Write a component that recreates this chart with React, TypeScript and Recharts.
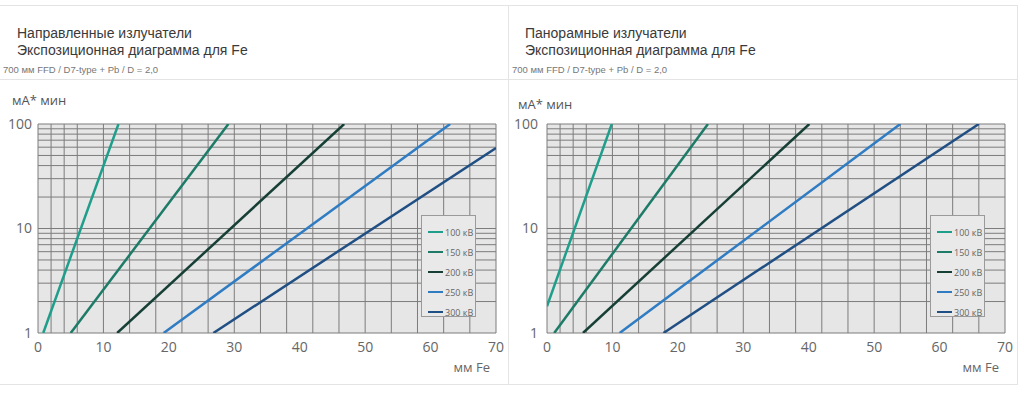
import React from 'react';
import { LineChart, Line, XAxis, YAxis, CartesianGrid, Legend, ReferenceLine } from 'recharts';

// thickness axis (mm Fe) and exposure axis (mA*min)
const xTicks = [0, 10, 20, 30, 40, 50, 60, 70];
const yTicks = [1, 10, 100];
const seriesNames = ['100 кВ', '150 кВ', '200 кВ', '250 кВ', '300 кВ'];
const seriesColors = ['#1f9e8b', '#1d7b68', '#163f35', '#2f7cc2', '#204f84'];

// directional tubes
const directional100 = [{ x: 0.8, y: 1 }, { x: 12.3, y: 100 }];
const directional150 = [{ x: 5.0, y: 1 }, { x: 29.1, y: 100 }];
const directional200 = [{ x: 12.1, y: 1 }, { x: 46.8, y: 100 }];
const directional250 = [{ x: 19.2, y: 1 }, { x: 63.0, y: 100 }];
const directional300 = [{ x: 26.8, y: 1 }, { x: 70, y: 59 }];

// panoramic tubes
const panoramic100 = [{ x: 0, y: 1.8 }, { x: 9.9, y: 100 }];
const panoramic150 = [{ x: 1.1, y: 1 }, { x: 24.6, y: 100 }];
const panoramic200 = [{ x: 5.5, y: 1 }, { x: 40.1, y: 100 }];
const panoramic250 = [{ x: 11.1, y: 1 }, { x: 54.0, y: 100 }];
const panoramic300 = [{ x: 17.8, y: 1 }, { x: 66.0, y: 100 }];

// grid: every 2 mm, log minors 1..9 per decade
const vGrid: number[] = [];
for (let v = 0; v <= 70; v += 2) vGrid.push(v);
const hGrid: number[] = [];
for (const d of [1, 10]) for (let k = 1; k < 10; k++) hGrid.push(d * k);
hGrid.push(100);

const gridColor = '#7c7c7c';
const titleFont = '"Liberation Sans", Arial, sans-serif';
const chartFont = '"Open Sans", sans-serif';

const LegendBox = ({ payload }: any) => (
  <div
    style={{
      width: 55,
      height: 102,
      background: '#e9e9e9',
      border: '1px solid #9a9a9a',
      boxSizing: 'border-box',
      padding: '6px 0 0 6px',
      fontFamily: chartFont,
      fontSize: 9,
      color: '#666',
    }}
  >
    {(payload || []).map((p: any) => (
      <div key={p.value} style={{ display: 'flex', alignItems: 'center', height: 20 }}>
        <span style={{ display: 'inline-block', width: 15, height: 2, background: p.color, marginRight: 2 }} />
        <span>{p.value}</span>
      </div>
    ))}
  </div>
);

interface PanelProps {
  left: number;
  width: number;
  title: string;
  series: { x: number; y: number }[][];
  titleX: number;
  subX: number;
  unitX: number;
  unitY: number;
  yTickGap: number;
  legendLeft: number;
}

const Panel: React.FC<PanelProps> = ({ left, width, title, series, titleX, subX, unitX, unitY, yTickGap, legendLeft }) => (
  <div style={{ position: 'absolute', left, top: 0, width, height: 394 }}>
    <div style={{ position: 'absolute', left: titleX, top: 25, fontFamily: titleFont, fontSize: 14, lineHeight: '17px', color: '#3a3a3a' }}>
      {title}
      <br />
      Экспозиционная диаграмма для Fe
    </div>
    <div style={{ position: 'absolute', left: subX, top: 64, fontFamily: titleFont, fontSize: 9.5, color: '#777', whiteSpace: 'nowrap' }}>
      700 мм FFD / D7-type + Pb / D = 2,0
    </div>
    <div style={{ position: 'absolute', left: unitX, top: unitY, fontFamily: chartFont, fontSize: 13, color: '#555', whiteSpace: 'nowrap' }}>
      мА* мин
    </div>
    <div style={{ position: 'absolute', left: 0, top: 0 }}>
      <LineChart width={width} height={394} margin={{ top: 124, right: width - 38 - 458, bottom: 16, left: 0 }}>
        <CartesianGrid fill="#e6e6e6" stroke={gridColor} strokeWidth={1} horizontal={false} verticalValues={vGrid} />
        {hGrid.map((v) => (
          <ReferenceLine key={'h' + v} y={v} stroke={gridColor} strokeWidth={1} />
        ))}
        <XAxis
          type="number"
          dataKey="x"
          domain={[0, 70]}
          ticks={xTicks}
          allowDataOverflow
          axisLine={false}
          tickLine={false}
          tickMargin={3}
          height={45}
          tick={{ fill: '#666', fontSize: 14, fontFamily: chartFont }}
          label={{ value: 'мм Fe', position: 'insideBottomRight', offset: 6, fill: '#666', fontSize: 13, fontFamily: chartFont }}
        />
        <YAxis
          type="number"
          scale="log"
          domain={[1, 100]}
          ticks={yTicks}
          allowDataOverflow
          axisLine={false}
          tickLine={false}
          tickMargin={yTickGap}
          width={38}
          tick={{ fill: '#666', fontSize: 14, fontFamily: chartFont }}
        />
        <Legend
          layout="vertical"
          align="center"
          verticalAlign="middle"
          content={<LegendBox />}
          wrapperStyle={{ left: legendLeft, top: 215, width: 55, height: 102 }}
        />
        {series.map((pts, i) => (
          <Line
            key={seriesNames[i]}
            data={pts}
            dataKey="y"
            name={seriesNames[i]}
            stroke={seriesColors[i]}
            strokeWidth={2.5}
            dot={false}
            isAnimationActive={false}
            legendType="line"
          />
        ))}
      </LineChart>
    </div>
  </div>
);

const App = () => (
  <div style={{ position: 'absolute', left: 0, top: 0, width: 1024, height: 394, background: '#fff', overflow: 'hidden' }}>
    {/* frame lines */}
    <div style={{ position: 'absolute', left: 0, top: 5, width: 1017, height: 1, background: '#e4e4e4' }} />
    <div style={{ position: 'absolute', left: 0, top: 79, width: 1017, height: 1, background: '#e4e4e4' }} />
    <div style={{ position: 'absolute', left: 0, top: 384, width: 1017, height: 1, background: '#e4e4e4' }} />
    <div style={{ position: 'absolute', left: 508, top: 5, width: 1, height: 380, background: '#e4e4e4' }} />
    <div style={{ position: 'absolute', left: 1017, top: 5, width: 1, height: 380, background: '#e4e4e4' }} />
    <Panel
      left={0}
      width={508}
      title="Направленные излучатели"
      series={[directional100, directional150, directional200, directional250, directional300]}
      titleX={17}
      subX={3}
      unitX={12}
      unitY={91}
      yTickGap={0}
      legendLeft={421}
    />
    <Panel
      left={509}
      width={515}
      title="Панорамные излучатели"
      series={[panoramic100, panoramic150, panoramic200, panoramic250, panoramic300]}
      titleX={16}
      subX={3}
      unitX={9}
      unitY={95}
      yTickGap={3}
      legendLeft={421}
    />
  </div>
);

export default App;
